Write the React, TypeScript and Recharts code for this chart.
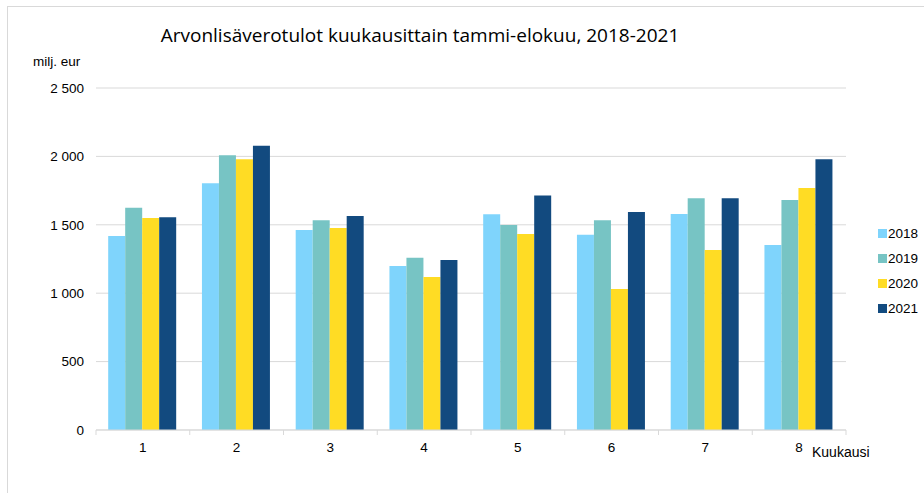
import React from 'react';
import { BarChart, Bar, XAxis, YAxis, CartesianGrid } from 'recharts';

const months = ['1', '2', '3', '4', '5', '6', '7', '8'];
const v2018 = [1418, 1803, 1462, 1199, 1577, 1428, 1579, 1352];
const v2019 = [1625, 2008, 1533, 1260, 1499, 1533, 1694, 1681];
const v2020 = [1550, 1979, 1477, 1118, 1433, 1031, 1316, 1769];
const v2021 = [1555, 2078, 1564, 1243, 1715, 1594, 1694, 1979];
const yTicks = [0, 500, 1000, 1500, 2000, 2500];

const SERIES = [
  { key: 'y2018', name: '2018', color: '#7fd4fc' },
  { key: 'y2019', name: '2019', color: '#77c4c4' },
  { key: 'y2020', name: '2020', color: '#ffdc24' },
  { key: 'y2021', name: '2021', color: '#124a7f' },
];

const data = months.map((m, i) => ({
  month: m,
  y2018: v2018[i],
  y2019: v2019[i],
  y2020: v2020[i],
  y2021: v2021[i],
}));

const W = 924;
const H = 493;
const M = { top: 88, right: 78, bottom: 33, left: 0 };
const Y_W = 96;
const X_H = 30;
const PLOT_BOTTOM = H - M.bottom - X_H;
const BAND = (W - M.right - Y_W) / months.length;
const FONT = 'Arial, "Liberation Sans", sans-serif';
const FS = 13.5;

const fmt = (v: number) => String(v).replace(/\B(?=(\d{3})+(?!\d))/g, ' ');

function MonthTick(props: any) {
  const { x, y, payload, index } = props;
  const left = x - BAND / 2;
  return (
    <g>
      <line x1={left} x2={left} y1={PLOT_BOTTOM} y2={PLOT_BOTTOM + 5} stroke="#d9d9d9" />
      {index === months.length - 1 && (
        <line x1={x + BAND / 2} x2={x + BAND / 2} y1={PLOT_BOTTOM} y2={PLOT_BOTTOM + 5} stroke="#d9d9d9" />
      )}
      <text x={x} y={y} dy="0.71em" textAnchor="middle" fill="#000" fontSize={FS} fontFamily={FONT}>
        {payload.value}
      </text>
    </g>
  );
}

export default function App() {
  return (
    <div style={{ position: 'absolute', left: 0, top: 0, width: W, height: H, overflow: 'hidden', background: '#fff' }}>
      <div style={{ position: 'absolute', left: 7, top: 6, width: W + 20, height: H + 20, border: '1px solid #d9d9d9' }} />
      <div
        style={{
          position: 'absolute', left: 0, width: 840, top: 21, textAlign: 'center',
          fontFamily: '"Open Sans", sans-serif', fontSize: 19, color: '#000', lineHeight: '28px',
        }}
      >
        Arvonlisäverotulot kuukausittain tammi-elokuu, 2018-2021
      </div>
      <div style={{ position: 'absolute', left: 33, top: 54, fontFamily: FONT, fontSize: FS, lineHeight: '16px' }}>
        milj. eur
      </div>
      <div style={{ position: 'absolute', left: 812, top: 444, fontFamily: FONT, fontSize: 14, lineHeight: '16px' }}>
        Kuukausi
      </div>
      <BarChart
        width={W}
        height={H}
        data={data}
        margin={M}
        barCategoryGap="13%"
        barGap={0}
        style={{ position: 'absolute', left: 0, top: 0 }}
      >
        <CartesianGrid vertical={false} stroke="#d9d9d9" />
        <XAxis
          dataKey="month"
          height={X_H}
          axisLine={{ stroke: '#d9d9d9' }}
          tickLine={false}
          tickMargin={6}
          tick={<MonthTick />}
          interval={0}
        />
        <YAxis
          width={Y_W}
          domain={[0, 2500]}
          ticks={yTicks}
          axisLine={false}
          tickLine={false}
          tickMargin={6}
          tickFormatter={fmt}
          tick={{ fill: '#000', fontSize: FS, fontFamily: FONT }}
        />
        {SERIES.map((s) => (
          <Bar key={s.key} dataKey={s.key} name={s.name} fill={s.color} isAnimationActive={false} />
        ))}
      </BarChart>
      {SERIES.map((s, i) => (
        <div
          key={s.key}
          style={{
            position: 'absolute', left: 878, top: 224 + i * 25, height: 18, display: 'flex', alignItems: 'center',
            fontFamily: FONT, fontSize: FS,
          }}
        >
          <span style={{ display: 'inline-block', width: 9, height: 9, background: s.color, marginRight: 1 }} />
          {s.name}
        </div>
      ))}
    </div>
  );
}
